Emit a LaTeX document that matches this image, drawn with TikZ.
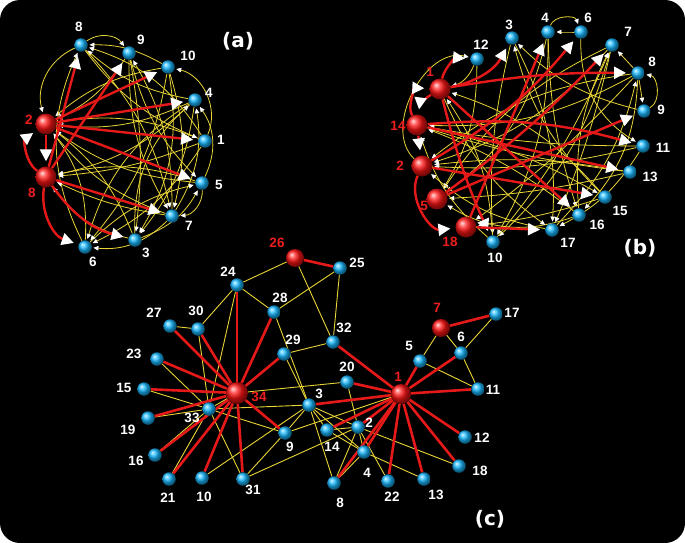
\documentclass[tikz,border=0pt]{standalone}
\usepackage{fontspec}
\newfontfamily\libsans{Liberation Sans}
\newfontfamily\djv{DejaVu Sans}
\usetikzlibrary{arrows.meta}
\definecolor{nodeblue}{RGB}{25,185,255}
\definecolor{nodered}{RGB}{255,20,20}
\definecolor{edgered}{RGB}{230,25,25}
\definecolor{edgeyel}{RGB}{232,212,55}
\definecolor{labred}{RGB}{238,30,30}
\pgfdeclarelayer{back}
\pgfdeclarelayer{edges}
\pgfsetlayers{back,edges,main}
\tikzset{
  bnode/.style={circle, inner sep=0pt, minimum size=13.5pt, ball color=nodeblue},
  rnode/.style={circle, inner sep=0pt, minimum size=21pt, ball color=nodered},
  wlab/.style={text=white, font=\libsans\bfseries\fontsize{13.5}{13.5}\selectfont, inner sep=0pt},
  rlab/.style={text=labred, font=\libsans\bfseries\fontsize{13.5}{13.5}\selectfont, inner sep=0pt},
  plab/.style={text=white, font=\djv\bfseries\fontsize{20}{20}\selectfont, inner sep=0pt},
  redarr/.style={draw=edgered, line width=2.4pt, -{Triangle[color=white,length=12pt,width=12pt]}, shorten >=5pt},
  yelarr/.style={draw=edgeyel, line width=0.8pt, -{Triangle[color=white,length=5pt,width=4.5pt]}, shorten >=1.5pt},
  redline/.style={draw=edgered, line width=2.6pt},
  yelline/.style={draw=edgeyel, line width=0.9pt},
}
\begin{document}
\begin{tikzpicture}[x=1pt,y=-1pt]
\useasboundingbox (0,0) rectangle (685,543);
\begin{pgfonlayer}{back}
\fill[white] (0,0) rectangle (685,543);
\fill[black, rounded corners=20pt] (0,0) rectangle (685,543);
\end{pgfonlayer}

% ---------------- panel (a) ----------------
\node[bnode] (A8) at (81,45) {};
\node[bnode] (A9) at (129,53) {};
\node[bnode] (A10) at (168,67) {};
\node[bnode] (A4) at (195,100) {};
\node[bnode] (A1) at (205,141) {};
\node[bnode] (A5) at (202,183) {};
\node[bnode] (A7) at (172,216) {};
\node[bnode] (A3) at (135,240) {};
\node[bnode] (A6) at (85,247) {};
\node[rnode] (A2) at (46,124) {};
\node[rnode] (AR8) at (46,177) {};
\node[wlab] (tA8) at (79,27) {8};
\node[wlab] (tA9) at (141,40) {9};
\node[wlab] (tA10) at (188,56) {10};
\node[wlab] (tA4) at (209,93) {4};
\node[wlab] (tA1) at (221,140) {1};
\node[wlab] (tA5) at (219,185) {5};
\node[wlab] (tA7) at (189,226) {7};
\node[wlab] (tA3) at (146,253) {3};
\node[wlab] (tA6) at (93,262) {6};
\node[rlab] (tA2) at (29,120) {2};
\node[rlab] (tAR8) at (32,193) {8};
\node[plab] (pa) at (238,41) {(a)};

% ---------------- panel (b) ----------------
\node[bnode] (B3) at (512,38) {};
\node[bnode] (B4) at (548,32) {};
\node[bnode] (B6) at (581,32) {};
\node[bnode] (B7) at (612,45) {};
\node[bnode] (B12) at (477,59) {};
\node[bnode] (B8) at (638,73) {};
\node[bnode] (B9) at (644,111) {};
\node[bnode] (B11) at (643,146) {};
\node[bnode] (B13) at (630,172) {};
\node[bnode] (B15) at (605,197) {};
\node[bnode] (B16) at (579,215) {};
\node[bnode] (B17) at (552,230) {};
\node[bnode] (B10) at (493,242) {};
\node[rnode] (B1) at (440,89) {};
\node[rnode] (B14) at (417,125) {};
\node[rnode] (B2) at (422,166) {};
\node[rnode] (B5) at (437,199) {};
\node[rnode] (B18) at (466,227) {};
\node[wlab] (tB3) at (509,25) {3};
\node[wlab] (tB4) at (545,18) {4};
\node[wlab] (tB6) at (588,18) {6};
\node[wlab] (tB7) at (628,32) {7};
\node[wlab] (tB12) at (481,45) {12};
\node[wlab] (tB8) at (652,62) {8};
\node[wlab] (tB9) at (661,110) {9};
\node[wlab] (tB11) at (663,148) {11};
\node[wlab] (tB13) at (650,177) {13};
\node[wlab] (tB15) at (620,211) {15};
\node[wlab] (tB16) at (597,225) {16};
\node[wlab] (tB17) at (568,243) {17};
\node[wlab] (tB10) at (495,258) {10};
\node[rlab] (tB1) at (430,72) {1};
\node[rlab] (tB14) at (398,126) {14};
\node[rlab] (tB2) at (400,166) {2};
\node[rlab] (tB5) at (424,206) {5};
\node[rlab] (tB18) at (450,242) {18};
\node[plab] (pb) at (640,248) {(b)};

% ---------------- panel (c) ----------------
\node[rnode, minimum size=18pt] (C26) at (295,258) {};
\node[rnode, minimum size=18pt] (C7) at (441,328) {};
\node[rnode, minimum size=22pt] (C34) at (237,393) {};
\node[rnode, minimum size=20pt] (C1) at (401,394) {};
\node[bnode] (C25) at (340,268) {};
\node[bnode] (C24) at (237,285) {};
\node[bnode] (C28) at (274,312) {};
\node[bnode] (C30) at (198,329) {};
\node[bnode] (C27) at (170,326) {};
\node[bnode] (C32) at (333,342) {};
\node[bnode] (C29) at (284,354) {};
\node[bnode] (C23) at (157,359) {};
\node[bnode] (C5) at (420,361) {};
\node[bnode] (C17) at (496,314) {};
\node[bnode] (C6) at (461,353) {};
\node[bnode] (C11) at (478,389) {};
\node[bnode] (C20) at (347,382) {};
\node[bnode] (C15) at (144,389) {};
\node[bnode] (C3) at (309,405) {};
\node[bnode] (C33) at (209,409) {};
\node[bnode] (C19) at (148,418) {};
\node[bnode] (C2) at (358,427) {};
\node[bnode] (C14) at (327,430) {};
\node[bnode] (C9) at (285,433) {};
\node[bnode] (C12) at (465,437) {};
\node[bnode] (C4) at (364,452) {};
\node[bnode] (C16) at (155,455) {};
\node[bnode] (C18) at (459,466) {};
\node[bnode] (C21) at (169,479) {};
\node[bnode] (C10) at (202,478) {};
\node[bnode] (C31) at (243,479) {};
\node[bnode] (C8) at (334,483) {};
\node[bnode] (C22) at (388,481) {};
\node[bnode] (C13) at (424,479) {};
\node[rlab] (tC26) at (277,243) {26};
\node[rlab] (tC7) at (437,308) {7};
\node[rlab] (tC34) at (259,397) {34};
\node[rlab] (tC1) at (398,377) {1};
\node[wlab] (tC25) at (357,263) {25};
\node[wlab] (tC24) at (228,272) {24};
\node[wlab] (tC28) at (280,298) {28};
\node[wlab] (tC30) at (196,311) {30};
\node[wlab] (tC27) at (154,313) {27};
\node[wlab] (tC32) at (344,328) {32};
\node[wlab] (tC29) at (293,340) {29};
\node[wlab] (tC23) at (134,354) {23};
\node[wlab] (tC5) at (409,346) {5};
\node[wlab] (tC17) at (512,313) {17};
\node[wlab] (tC6) at (461,337) {6};
\node[wlab] (tC11) at (493,390) {11};
\node[wlab] (tC20) at (347,367) {20};
\node[wlab] (tC15) at (124,388) {15};
\node[wlab] (tC3) at (319,394) {3};
\node[wlab] (tC33) at (192,418) {33};
\node[wlab] (tC19) at (128,430) {19};
\node[wlab] (tC2) at (369,423) {2};
\node[wlab] (tC14) at (332,447) {14};
\node[wlab] (tC9) at (290,447) {9};
\node[wlab] (tC12) at (482,438) {12};
\node[wlab] (tC4) at (367,473) {4};
\node[wlab] (tC16) at (136,461) {16};
\node[wlab] (tC18) at (480,471) {18};
\node[wlab] (tC21) at (168,498) {21};
\node[wlab] (tC10) at (204,497) {10};
\node[wlab] (tC31) at (253,490) {31};
\node[wlab] (tC8) at (340,503) {8};
\node[wlab] (tC22) at (392,497) {22};
\node[wlab] (tC13) at (436,495) {13};
\node[plab] (pc) at (490,519) {(c)};

\begin{pgfonlayer}{edges}
% (a) yellow
\foreach \s/\t/\b in {A8/A9/45, A10/A8/-15, A4/A8/15, A1/A8/-20, A9/A3/8, A9/A7/-15,
  A10/A7/15, A10/A3/20, A10/A2/-15, A4/A2/15, A4/A6/-20, A4/AR8/15, A4/A3/15,
  A1/A10/-50, A1/A2/-15, A1/A6/15, A1/AR8/8, A5/A2/15, A5/A4/-30, A5/A7/45,
  A7/A2/15, A7/A4/-20, A7/A9/-15, A7/A6/25, A3/A2/-15, A3/A5/-20, A3/A4/25,
  A6/A2/-20, A6/A5/15, A3/AR8/20, A6/A8/25, A8/A2/-40, A8/A7/15, A8/A1/-15,
  A9/A5/-15, A10/A6/15, A5/AR8/-15, A7/AR8/8, A9/A2/15}
  \draw[yelarr] (\s) to[bend left=\b] (\t);
% (a) red
\foreach \s/\t/\b in {A2/AR8/0, AR8/A2/55, A2/A10/0, A2/A4/0, A2/A1/0, A2/A5/0,
  AR8/A8/0, AR8/A9/0, AR8/A7/0, AR8/A3/-20, AR8/A6/-40}
  \draw[redarr] (\s) to[bend left=\b] (\t);

% (b) yellow
\foreach \s/\t/\b in {B2/B12/75, B6/B4/0, B4/B6/70, B9/B8/-70, B8/B9/0, B8/B7/0,
  B12/B5/15, B3/B10/-8, B3/B17/15, B15/B3/15, B4/B10/15, B4/B16/-8, B4/B5/20,
  B6/B11/-30, B7/B5/-15, B7/B2/15, B7/B10/15, B7/B17/5, B8/B14/15, B8/B2/-15,
  B8/B16/20, B8/B18/5, B11/B14/5, B11/B2/8, B13/B14/5, B13/B2/-8, B13/B5/5,
  B15/B1/-15, B15/B18/5, B16/B5/25, B16/B7/15, B16/B14/-8, B17/B2/15, B17/B8/-15,
  B10/B1/-15, B10/B14/15, B10/B7/-8, B12/B1/25, B9/B3/15, B11/B17/15, B1/B17/-15,
  B14/B15/8}
  \draw[yelarr] (\s) to[bend left=\b] (\t);
% (b) red
\foreach \s/\t/\b in {B1/B12/40, B1/B3/-25, B14/B1/60, B1/B14/-25, B14/B2/0,
  B2/B18/-60, B1/B8/5, B1/B16/0, B1/B10/-5, B14/B11/10, B14/B13/0, B2/B15/0,
  B2/B6/-10, B5/B9/0, B5/B7/-5, B18/B4/0, B18/B17/0}
  \draw[redarr] (\s) to[bend left=\b] (\t);

% (c) yellow
\foreach \s/\t in {C2/C3, C2/C4, C2/C8, C2/C14, C2/C18, C2/C20, C2/C22, C2/C31,
  C3/C4, C3/C8, C3/C9, C3/C10, C3/C14, C3/C28, C3/C29, C3/C33, C4/C8, C4/C13,
  C4/C14, C5/C7, C5/C11, C6/C7, C6/C11, C6/C17, C9/C31, C9/C33, C15/C33,
  C16/C33, C19/C33, C21/C33, C23/C33, C24/C26, C24/C28, C24/C30, C24/C33,
  C25/C28, C25/C32, C26/C32, C27/C30, C29/C32, C30/C33, C31/C33, C33/C34,
  C34/C20, C1/C9}
  \draw[yelline] (\s) -- (\t);
% (c) red
\foreach \s/\t in {C1/C2, C1/C3, C1/C4, C1/C5, C1/C6, C1/C8, C1/C11, C1/C12,
  C1/C13, C1/C14, C1/C18, C1/C20, C1/C22, C1/C32, C34/C9, C34/C10, C34/C15,
  C34/C16, C34/C19, C34/C21, C34/C23, C34/C24, C34/C27, C34/C28, C34/C29,
  C34/C30, C34/C31, C26/C25, C7/C17}
  \draw[redline] (\s) -- (\t);
\end{pgfonlayer}
\end{tikzpicture}
\end{document}
